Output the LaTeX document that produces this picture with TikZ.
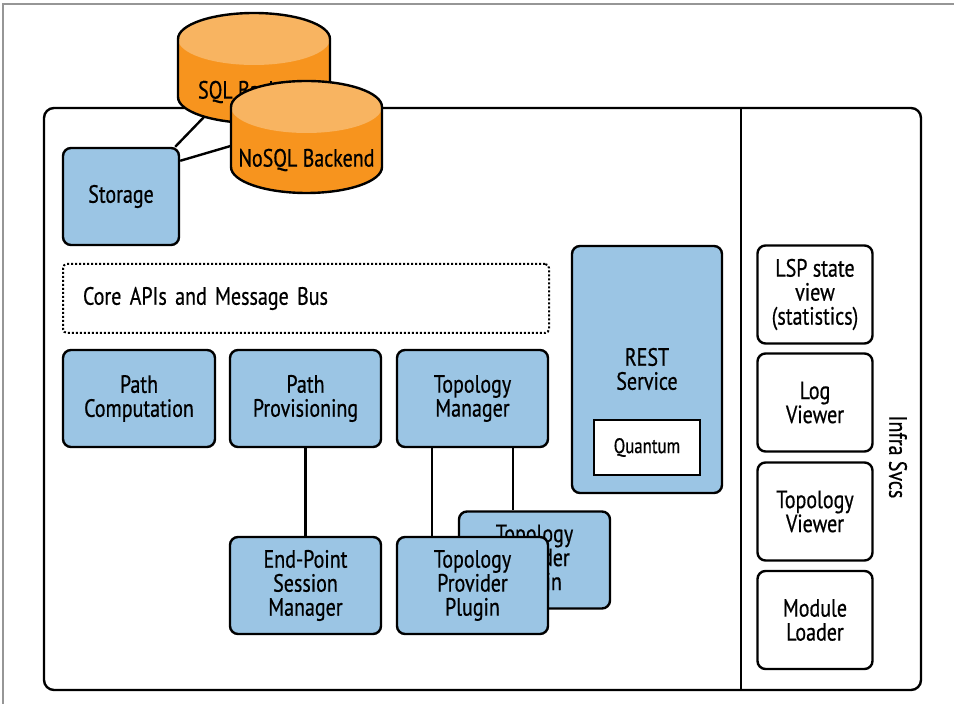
\documentclass[tikz,border=0pt]{standalone}
\usepackage{fontspec}
\setmainfont[FakeStretch=0.8,FakeBold=0.6]{PT Sans}
\definecolor{boxblue}{RGB}{155,197,228}
\definecolor{orgbody}{RGB}{247,148,30}
\definecolor{orgtop}{RGB}{248,180,97}
\definecolor{framegray}{RGB}{150,150,150}
\newcommand{\lblfont}{\fontsize{25}{24}\selectfont}
\newcommand{\smallfont}{\fontsize{21}{22}\selectfont}
\tikzset{
  bluebox/.style={draw, line width=2.4pt, rounded corners=8pt, fill=boxblue, align=center,
    font=\lblfont, inner sep=0pt},
  wbox/.style={draw, line width=2.4pt, rounded corners=8pt, fill=white, align=center,
    font=\lblfont, inner sep=0pt, minimum width=115pt, minimum height=98pt},
  conn/.style={draw, line width=2.4pt},
  cylout/.style={line width=2.4pt},
}
\begin{document}
\begin{tikzpicture}[x=1pt,y=1pt]
\useasboundingbox (0,0) rectangle (954,704);
% outer frame (top and left edges visible)
\draw[framegray, line width=1.2pt] (3,0) -- (3,700) -- (954,700);
% main box
\draw[line width=2.4pt, rounded corners=10pt] (44,14) rectangle (921,596);
\draw[line width=2.4pt] (741,14) -- (741,596);

% storage
\node[bluebox, minimum width=116pt, minimum height=97pt] (storage) at (121,507.5) {Storage};
\coordinate (sqlbot) at (205,588);
\coordinate (nosqlleft) at (234,559);
\draw[conn] ([xshift=-5pt]storage.north east) -- (sqlbot);
\draw[conn] ([yshift=-14pt]storage.north east) -- (nosqlleft);

% SQL Backend cylinder
\fill[orgbody] (178,665) -- (178,607) arc[start angle=180,end angle=360,x radius=76pt,y radius=26pt] -- (330,665) -- cycle;
\fill[orgtop] (254,665) ellipse[x radius=76pt,y radius=26pt];
\draw[cylout] (178,607) -- (178,665) arc[start angle=180,end angle=0,x radius=76pt,y radius=26pt] -- (330,607) arc[start angle=0,end angle=-180,x radius=76pt,y radius=26pt] -- cycle;
\node[font=\lblfont] (sql) at (254,612) {SQL Backend};

% NoSQL Backend cylinder
\fill[orgbody] (231,597) -- (231,537) arc[start angle=180,end angle=360,x radius=75.5pt,y radius=26pt] -- (382,597) -- cycle;
\fill[orgtop] (306.5,597) ellipse[x radius=75.5pt,y radius=26pt];
\draw[cylout] (231,537) -- (231,597) arc[start angle=180,end angle=0,x radius=75.5pt,y radius=26pt] -- (382,537) arc[start angle=0,end angle=-180,x radius=75.5pt,y radius=26pt] -- cycle;
\node[font=\lblfont] (nosql) at (306.5,544) {NoSQL Backend};

% core APIs
\node[draw, dotted, line width=2pt, rounded corners=4pt, text width=446pt, inner xsep=20pt,
  inner ysep=0pt, minimum height=69pt, align=left, font=\lblfont] (core) at (306,405.5) {Core APIs and Message Bus};

% row of boxes
\node[bluebox, minimum width=152pt, minimum height=97pt] (pathcomp) at (139,305.5) {Path\\Computation};
\node[bluebox, minimum width=151pt, minimum height=97pt] (pathprov) at (305.5,305.5) {Path\\Provisioning};
\node[bluebox, minimum width=151pt, minimum height=97pt] (topomgr) at (472.5,305.5) {Topology\\Manager};

% REST service
\node[bluebox, minimum width=150pt, minimum height=247pt] (rest) at (647,334.5) {};
\node[font=\lblfont, align=center] (resttext) at (647,335) {REST\\Service};
\node[draw, fill=white, line width=2.4pt, minimum width=106pt, minimum height=55pt, inner sep=0pt,
  font=\smallfont] (quantum) at (647,256.5) {Quantum};

% lower boxes
\node[bluebox, minimum width=151pt, minimum height=97pt] (endpoint) at (305.5,118.5) {End-Point\\Session\\Manager};
\node[bluebox, minimum width=151pt, minimum height=97pt] (plugback) at (534.5,144) {Topology\\Provider\\Plugin};
\node[bluebox, minimum width=151pt, minimum height=97pt] (plugfront) at (472.5,118.5) {Topology\\Provider\\Plugin};

\draw[conn] (pathprov.south) -- (endpoint.north);
\draw[conn] ([xshift=-40.5pt]topomgr.south) -- ([xshift=-40.5pt]plugfront.north);
\draw[conn] ([xshift=40.5pt]topomgr.south) -- ([xshift=-21.5pt]plugback.north);

% infra services
\node[wbox] (lsp) at (815,409.5) {LSP state\\view\\(statistics)};
\node[wbox] (logv) at (815,301.5) {Log\\Viewer};
\node[wbox] (topov) at (815,192.5) {Topology\\Viewer};
\node[wbox] (modl) at (815,84) {Module\\Loader};
\node[font=\lblfont, rotate=-90] (infra) at (898,247) {Infra Svcs};
\end{tikzpicture}
\end{document}
